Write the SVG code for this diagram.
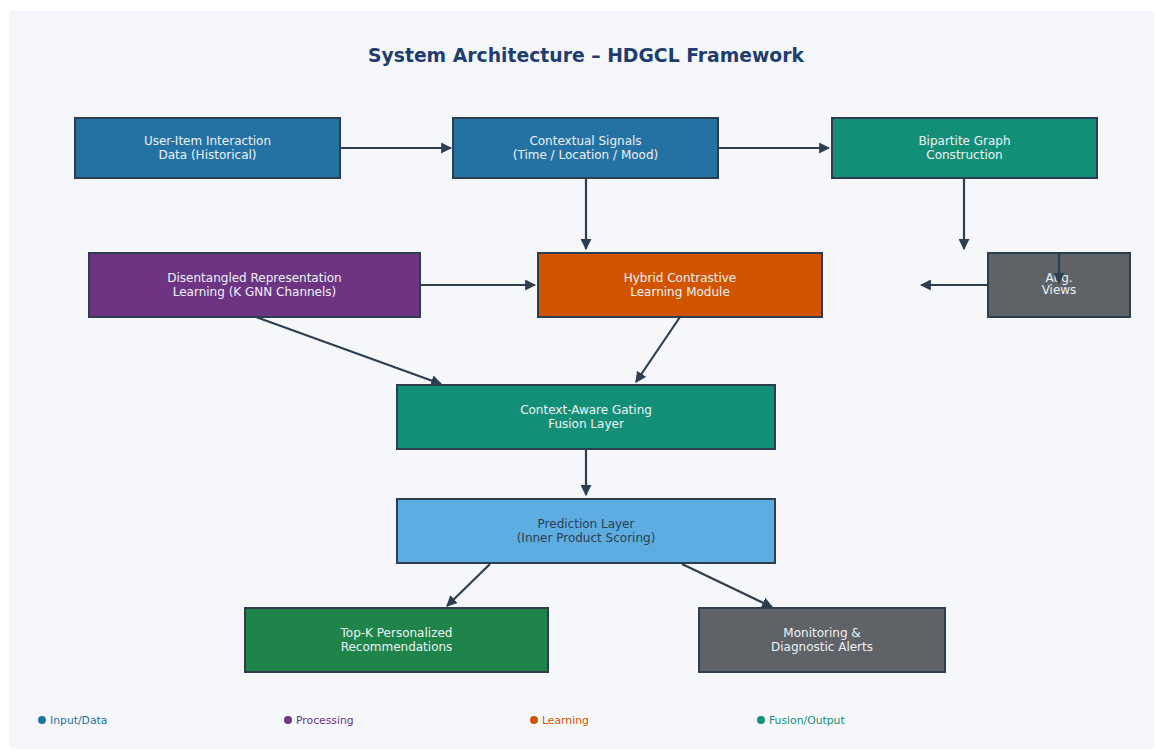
<svg xmlns="http://www.w3.org/2000/svg" width="1155" height="751" viewBox="0 0 1155 751">
<style>
.node{stroke:#2c3e50;stroke-width:2}
.t{font-family:"DejaVu Sans",sans-serif;font-size:12px;fill:#eef2f6;text-anchor:middle}
.dark{fill:#2c3e50}
.edge{stroke:#2c3e50;stroke-width:2.2;fill:none;marker-end:url(#ah)}
.lg{font-family:"DejaVu Sans",sans-serif;font-size:10.8px}
</style>
<defs>
<marker id="ah" viewBox="0 0 10 10" refX="9" refY="5" markerWidth="5" markerHeight="5" orient="auto" markerUnits="strokeWidth">
<path d="M0,0 L10,5 L0,10 z" fill="#2c3e50"/>
</marker>
</defs>
<rect width="1155" height="751" fill="#ffffff"/>
<rect x="9" y="10" width="1145" height="739" rx="4" fill="#f5f7fa"/>
<text x="586" y="62" font-family="DejaVu Sans, sans-serif" font-size="18.8" font-weight="bold" fill="#1f3d6e" text-anchor="middle">System Architecture – HDGCL Framework</text>

<g id="n1"><rect class="node" x="75" y="118" width="265" height="60" fill="#2471a3"/><text class="t" x="207.5" y="145">User-Item Interaction</text><text class="t" x="207.5" y="159">Data (Historical)</text></g>
<g id="n2"><rect class="node" x="453" y="118" width="265" height="60" fill="#2471a3"/><text class="t" x="585.5" y="145">Contextual Signals</text><text class="t" x="585.5" y="159">(Time / Location / Mood)</text></g>
<g id="n3"><rect class="node" x="832" y="118" width="265" height="60" fill="#148f77"/><text class="t" x="964.5" y="145">Bipartite Graph</text><text class="t" x="964.5" y="159">Construction</text></g>
<g id="n4"><rect class="node" x="89" y="253" width="331" height="64" fill="#6c3483"/><text class="t" x="254.5" y="282">Disentangled Representation</text><text class="t" x="254.5" y="296">Learning (K GNN Channels)</text></g>
<g id="n5"><rect class="node" x="538" y="253" width="284" height="64" fill="#d35400"/><text class="t" x="680" y="282">Hybrid Contrastive</text><text class="t" x="680" y="296">Learning Module</text></g>
<g id="n6"><rect class="node" x="988" y="253" width="142" height="64" fill="#5f6368"/><text class="t" x="1059" y="282" font-size="11">Aug.</text><text class="t" x="1059" y="294" font-size="11">Views</text></g>
<g id="n7"><rect class="node" x="397" y="385" width="378" height="64" fill="#148f77"/><text class="t" x="586" y="414">Context-Aware Gating</text><text class="t" x="586" y="428">Fusion Layer</text></g>
<g id="n8"><rect class="node" x="397" y="499" width="378" height="64" fill="#5dade2"/><text class="t dark" x="586" y="528">Prediction Layer</text><text class="t dark" x="586" y="542">(Inner Product Scoring)</text></g>
<g id="n9"><rect class="node" x="245" y="608" width="303" height="64" fill="#1e8449"/><text class="t" x="396.5" y="637">Top-K Personalized</text><text class="t" x="396.5" y="651">Recommendations</text></g>
<g id="n10"><rect class="node" x="699" y="608" width="246" height="64" fill="#5f6368"/><text class="t" x="822" y="637">Monitoring &amp;</text><text class="t" x="822" y="651">Diagnostic Alerts</text></g>

<g id="edges">
<line class="edge" x1="341" y1="148" x2="451" y2="148"/>
<line class="edge" x1="719" y1="148" x2="829" y2="148"/>
<line class="edge" x1="586" y1="178" x2="586" y2="249"/>
<line class="edge" x1="964" y1="178" x2="964" y2="249"/>
<line class="edge" x1="421" y1="285" x2="535" y2="285"/>
<line class="edge" x1="988" y1="285" x2="921" y2="285"/>
<line class="edge" x1="1059" y1="254" x2="1059" y2="283"/>
<line class="edge" x1="256" y1="317" x2="441" y2="384"/>
<line class="edge" x1="680" y1="317" x2="636" y2="382"/>
<line class="edge" x1="586" y1="450" x2="586" y2="495"/>
<line class="edge" x1="490" y1="564" x2="447" y2="606"/>
<line class="edge" x1="682" y1="564" x2="772" y2="607"/>
</g>

<g id="legend">
<circle cx="42" cy="720" r="4" fill="#2471a3"/><text class="lg" x="50" y="723.5" fill="#2471a3">Input/Data</text>
<circle cx="288" cy="720" r="4" fill="#6c3483"/><text class="lg" x="296" y="723.5" fill="#6c3483">Processing</text>
<circle cx="534" cy="720" r="4" fill="#d35400"/><text class="lg" x="542" y="723.5" fill="#d35400">Learning</text>
<circle cx="761" cy="720" r="4" fill="#148f77"/><text class="lg" x="769" y="723.5" fill="#148f77">Fusion/Output</text>
</g>
</svg>
